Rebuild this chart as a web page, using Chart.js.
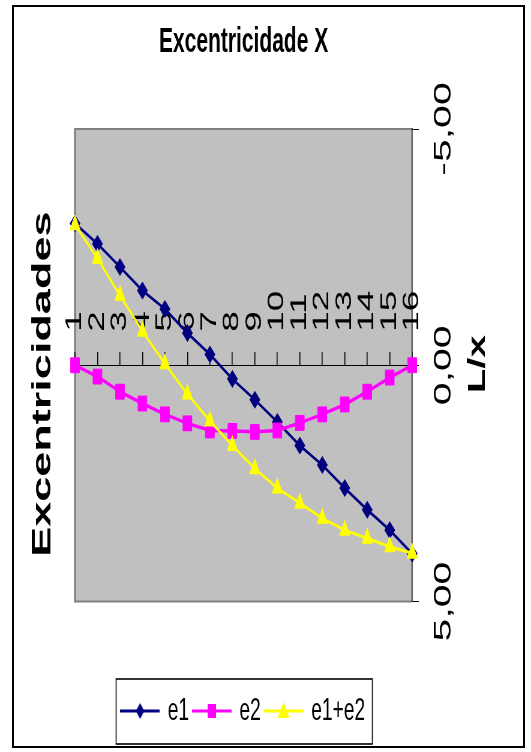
<!DOCTYPE html>
<html>
<head>
<meta charset="utf-8">
<script src="https://cdn.jsdelivr.net/npm/chart.js@4.4.1/dist/chart.umd.min.js"></script>
<style>
  html, body { margin: 0; padding: 0; background: #fff; overflow: hidden; }
  /* the chart is drawn wide and squeezed sideways, like the original picture */
  #wrap { position: absolute; left: 0; top: 0; width: 885px; height: 752px; transform: scaleX(0.6); transform-origin: 0 0; }
  #frame { position: absolute; left: 12px; top: 5px; width: 513px; height: 743px; border: 2px solid #000; box-sizing: border-box; pointer-events: none; }
</style>
</head>
<body>
<div id="wrap"><canvas id="chart" width="885" height="752"></canvas></div>
<div id="frame"></div>
<script>
// DATA
const positions = ["1", "2", "3", "4", "5", "6", "7", "8", "9", "10", "11", "12", "13", "14", "15", "16"];
const e1 = [-3.00, -2.57, -2.08, -1.58, -1.19, -0.68, -0.23, 0.29, 0.73, 1.20, 1.70, 2.11, 2.60, 3.06, 3.49, 3.99];
const e2 = [0.00, 0.24, 0.56, 0.81, 1.04, 1.23, 1.38, 1.39, 1.41, 1.38, 1.22, 1.04, 0.83, 0.56, 0.26, 0.00];
const e1e2 = [-2.97, -2.26, -1.48, -0.72, -0.03, 0.61, 1.18, 1.70, 2.19, 2.60, 2.92, 3.24, 3.49, 3.66, 3.84, 3.98];
const seriesNames = ["e1", "e2", "e1+e2"];

const FONT = '"Liberation Sans", Arial, sans-serif';
Chart.defaults.font.family = FONT;
Chart.defaults.color = "#000";

// small line + marker picture used as legend symbol
function legendIcon(color, shape) {
  const c = document.createElement("canvas");
  c.width = 66;
  c.height = 34;
  const g = c.getContext("2d");
  g.strokeStyle = color;
  g.fillStyle = color;
  g.lineWidth = 3;
  g.beginPath();
  g.moveTo(0, 17);
  g.lineTo(66, 17);
  g.stroke();
  g.beginPath();
  if (shape === "rectRot") {
    g.moveTo(33, 9); g.lineTo(40, 17); g.lineTo(33, 25); g.lineTo(26, 17);
  } else if (shape === "rect") {
    g.rect(26, 10, 14, 14);
  } else {
    g.moveTo(33, 8); g.lineTo(43, 24); g.lineTo(23, 24);
  }
  g.closePath();
  g.fill();
  return c;
}

// plot background, category labels, axis titles, legend frame
const decor = {
  id: "decor",
  beforeDraw(chart) {
    const { ctx, chartArea: a } = chart;
    ctx.save();
    ctx.fillStyle = "#c0c0c0";
    ctx.fillRect(a.left, a.top, a.width, a.height);
    ctx.strokeStyle = "#808080";
    ctx.lineWidth = 2;
    ctx.beginPath();
    ctx.moveTo(a.right, a.top); ctx.lineTo(a.left, a.top);
    ctx.moveTo(a.right, a.bottom); ctx.lineTo(a.left, a.bottom);
    ctx.stroke();
    ctx.lineWidth = 3.4;
    ctx.beginPath();
    ctx.moveTo(a.left, a.top - 1); ctx.lineTo(a.left, a.bottom + 1);
    ctx.stroke();
    ctx.restore();
  },
  beforeDatasetsDraw(chart) {
    const { ctx } = chart;
    const xs = chart.scales.x;
    const base = chart.scales.y.getPixelForValue(0) - 33.5;
    ctx.save();
    ctx.fillStyle = "#000";
    ctx.font = "37px " + FONT;
    ctx.textAlign = "left";
    ctx.textBaseline = "middle";
    xs.ticks.forEach((t, i) => {
      ctx.save();
      ctx.translate(xs.getPixelForTick(i), base);
      ctx.rotate(-Math.PI / 2);
      ctx.fillText(xs.getLabelForValue(t.value), 0, 0);
      ctx.restore();
    });
    ctx.restore();
  },
  afterDraw(chart) {
    const { ctx, chartArea: a } = chart;
    ctx.save();
    ctx.fillStyle = "#000";
    ctx.textAlign = "center";
    ctx.textBaseline = "middle";

    ctx.font = "bold 45px " + FONT;
    ctx.save();
    ctx.translate(72, a.top + a.height * 0.54);
    ctx.rotate(-Math.PI / 2);
    ctx.fillText("Excentricidades", 0, 0);
    ctx.restore();

    ctx.font = "bold 40px " + FONT;
    ctx.save();
    ctx.translate(797, chart.scales.y.getPixelForValue(0) - 1);
    ctx.rotate(-Math.PI / 2);
    ctx.fillText("L/x", 0, 0);
    ctx.restore();

    // legend frame
    const boxes = chart.legend.legendHitBoxes;
    if (boxes.length) {
      const first = boxes[0], last = boxes[boxes.length - 1];
      const cy = first.top + first.height / 2;
      ctx.strokeStyle = "#000";
      ctx.lineWidth = 1.6;
      ctx.strokeRect(first.left - 10, cy - 32, last.left + last.width + 12 - (first.left - 10), 65);
    }
    ctx.restore();
  },
};

const chart = new Chart(document.getElementById("chart"), {
  type: "line",
  data: {
    labels: positions,
    datasets: [
      {
        label: seriesNames[0],
        data: e1,
        borderColor: "#000080",
        backgroundColor: "#000080",
        borderWidth: 3,
        pointStyle: "rectRot",
        pointRadius: 8.5,
        pointBorderWidth: 1,
        order: 2,
        clip: false,
      },
      {
        label: seriesNames[1],
        data: e2,
        borderColor: "#ff00ff",
        backgroundColor: "#ff00ff",
        borderWidth: 3.5,
        pointStyle: "rect",
        pointRadius: 10.5,
        pointBorderWidth: 1,
        order: 1,
        clip: false,
      },
      {
        label: seriesNames[2],
        data: e1e2,
        borderColor: "#ffff00",
        backgroundColor: "#ffff00",
        borderWidth: 3,
        pointStyle: "triangle",
        pointRadius: 10,
        pointBorderWidth: 1,
        order: 0,
        clip: false,
      },
    ],
  },
  options: {
    responsive: false,
    animation: false,
    layout: { padding: { left: 125, right: 0, top: 0, bottom: 15 } },
    scales: {
      x: {
        type: "category",
        position: { y: 0 },
        offset: false,
        ticks: { display: false },
        grid: { drawOnChartArea: false, drawTicks: true, tickLength: -14, color: "#000", lineWidth: 1.6 },
        border: { color: "#000", width: 1 },
      },
      y: {
        type: "linear",
        position: "right",
        reverse: true,
        min: -5,
        max: 5,
        afterFit: (scale) => { scale.width = 198; },
        ticks: {
          stepSize: 5,
          minRotation: 90,
          maxRotation: 90,
          crossAlign: "center",
          padding: -5,
          color: "#000",
          font: { size: 41 },
          callback: (v) => v.toFixed(2).replace(".", ","),
        },
        grid: { drawOnChartArea: false, drawTicks: true, tickLength: 11, color: "#000" },
        border: { color: "#000", width: 1.6 },
      },
    },
    plugins: {
      title: {
        display: true,
        text: "Excentricidade X",
        fullSize: false,
        color: "#000",
        font: { size: 35, weight: "bold" },
        padding: { top: 21, bottom: 66 },
      },
      legend: {
        position: "bottom",
        fullSize: false,
        title: { display: true, text: "", font: { size: 10 }, padding: { top: 73.5, bottom: 0 } },
        labels: {
          usePointStyle: true,
          pointStyleWidth: 60,
          padding: 8,
          color: "#000",
          font: { size: 32 },
          generateLabels: (ch) =>
            ch.data.datasets.map((ds, i) => ({
              text: ds.label,
              pointStyle: legendIcon(ds.borderColor, ds.pointStyle),
              fillStyle: ds.backgroundColor,
              strokeStyle: ds.borderColor,
              fontColor: "#000",
              lineWidth: 0,
              hidden: false,
              datasetIndex: i,
            })),
        },
      },
      tooltip: { enabled: false },
    },
  },
  plugins: [decor],
});
</script>
</body>
</html>
